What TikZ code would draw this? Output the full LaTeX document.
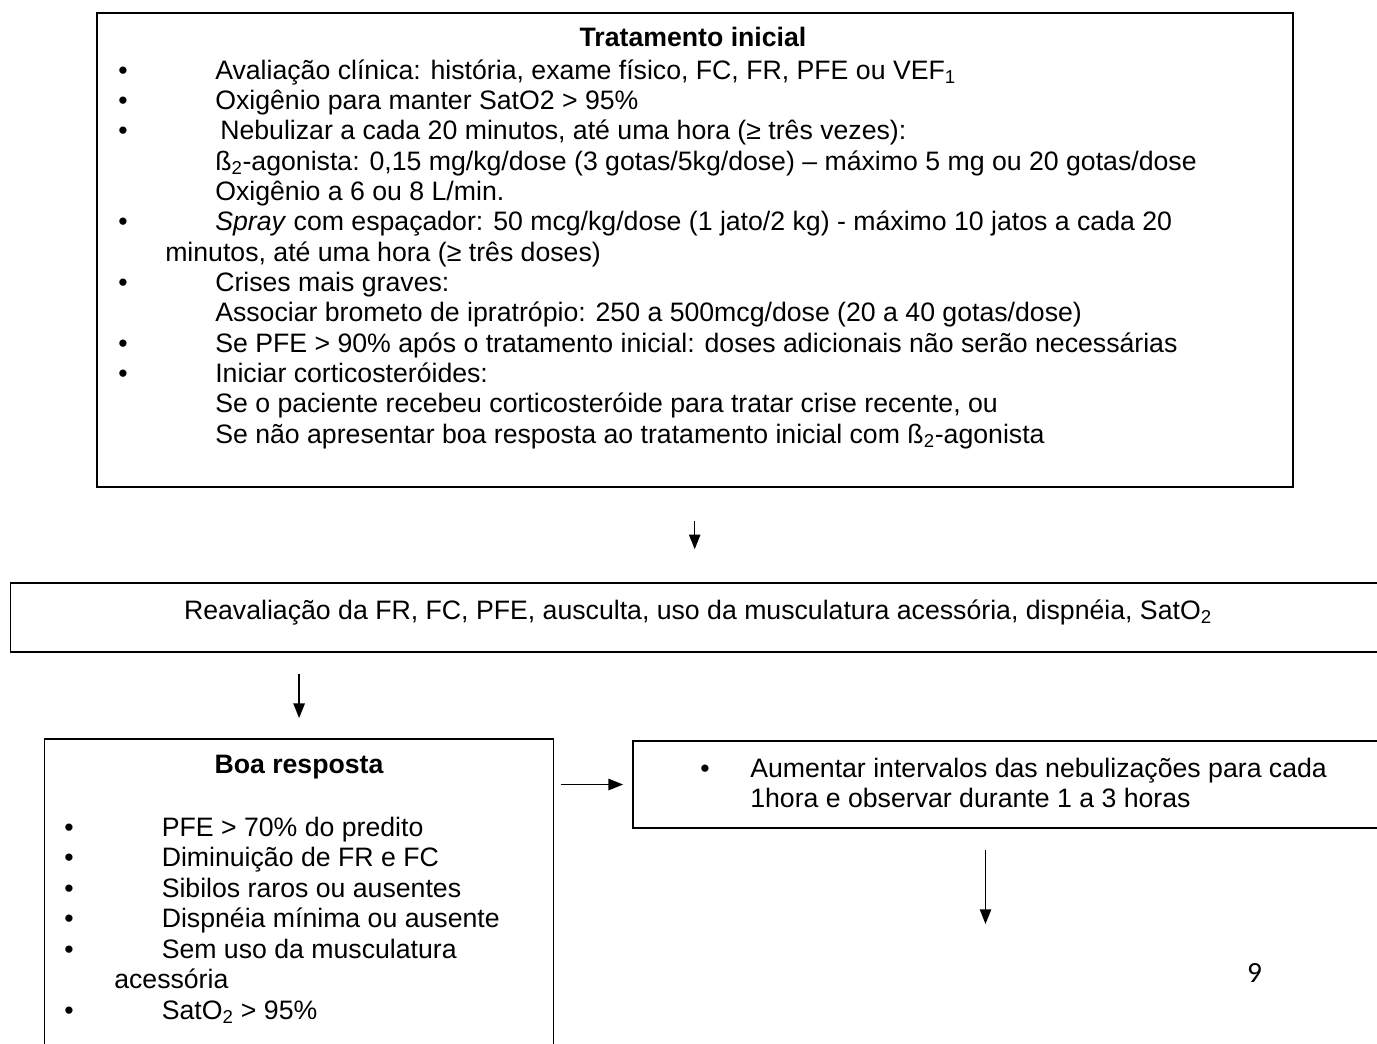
\documentclass[tikz,border=0pt]{standalone}
\usepackage{fontspec}
\setmainfont{Liberation Sans}
\newfontfamily\pagefont{Carlito}
\usetikzlibrary{arrows.meta}
\newcommand\fs{\fontsize{20}{23}\selectfont}
\begin{document}
\begin{tikzpicture}[x=0.75pt,y=-0.75pt,
  every node/.style={font=\fs, inner sep=0pt},
  box/.style={draw, line width=1.3pt, rectangle},
  txt/.style={anchor=base west},
  ctxt/.style={anchor=base},
  arr/.style={-{Triangle[length=11pt,width=8.5pt]}, line width=1.1pt}]
\useasboundingbox (0,0) rectangle (1377,1043);
\clip (0,0) rectangle (1377,1043);
% boxes
\node[box, minimum width=897pt, minimum height=355.5pt] (top) at (694.7,250) {};
\node[box, minimum width=1042.1pt, minimum height=51.75pt] (reav) at (705.25,617.2) {};
\node[box, minimum width=381.75pt, minimum height=240.75pt] (boa) at (299.1,899.5) {};
\node[box, minimum width=575.25pt, minimum height=65.25pt] (aum) at (1016.5,784.5) {};
% top box text
\node[ctxt] (t0) at (693,46) {\bfseries Tratamento inicial};
\node[ctxt] (b1) at (123,79) {•};
\node[txt] (t1) at (215,79) {Avaliação clínica: história, exame físico, FC, FR, PFE ou VEF\textsubscript{1}};
\node[ctxt] (b2) at (123,109.35) {•};
\node[txt] (t2) at (215,109.35) {Oxigênio para manter SatO2 > 95\%};
\node[ctxt] (b3) at (123,139.7) {•};
\node[txt] (t3) at (220,139.7) {Nebulizar a cada 20 minutos, até uma hora (≥ três vezes):};
\node[txt] (t4) at (215,170.05) {ß\textsubscript{2}-agonista: 0,15 mg/kg/dose (3 gotas/5kg/dose) – máximo 5 mg ou 20 gotas/dose};
\node[txt] (t5) at (215,200.4) {Oxigênio a 6 ou 8 L/min.};
\node[ctxt] (b6) at (123,230.75) {•};
\node[txt] (t6) at (215,230.75) {\textit{Spray} com espaçador: 50 mcg/kg/dose (1 jato/2 kg) - máximo 10 jatos a cada 20};
\node[txt] (t7) at (165,261.1) {minutos, até uma hora (≥ três doses)};
\node[ctxt] (b8) at (123,291.45) {•};
\node[txt] (t8) at (215,291.45) {Crises mais graves:};
\node[txt] (t9) at (215,321.8) {Associar brometo de ipratrópio: 250 a 500mcg/dose (20 a 40 gotas/dose)};
\node[ctxt] (b10) at (123,352.15) {•};
\node[txt] (t10) at (215,352.15) {Se PFE > 90\% após o tratamento inicial: doses adicionais não serão necessárias};
\node[ctxt] (b11) at (123,382.5) {•};
\node[txt] (t11) at (215,382.5) {Iniciar corticosteróides:};
\node[txt] (t12) at (215,412.85) {Se o paciente recebeu corticosteróide para tratar crise recente, ou};
\node[txt] (t13) at (215,443.2) {Se não apresentar boa resposta ao tratamento inicial com ß\textsubscript{2}-agonista};
% reav text
\node[ctxt] (r1) at (698,619) {Reavaliação da FR, FC, PFE, ausculta, uso da musculatura acessória, dispnéia, SatO\textsubscript{2}};
% boa text
\node[ctxt] (g0) at (299,773) {\bfseries Boa resposta};
\node[ctxt] (gb1) at (69,836) {•};
\node[txt] (g1) at (161.5,836) {PFE > 70\% do predito};
\node[ctxt] (gb2) at (69,866.5) {•};
\node[txt] (g2) at (161.5,866.5) {Diminuição de FR e FC};
\node[ctxt] (gb3) at (69,897) {•};
\node[txt] (g3) at (161.5,897) {Sibilos raros ou ausentes};
\node[ctxt] (gb4) at (69,927.5) {•};
\node[txt] (g4) at (161.5,927.5) {Dispnéia mínima ou ausente};
\node[ctxt] (gb5) at (69,958) {•};
\node[txt] (g5) at (161.5,958) {Sem uso da musculatura};
\node[txt] (g6) at (114,988.5) {acessória};
\node[ctxt] (gb7) at (69,1019) {•};
\node[txt] (g7) at (161.5,1019) {SatO\textsubscript{2} > 95\%};
% aum text
\node[ctxt] (ab1) at (705,777) {•};
\node[txt] (a1) at (750,777) {Aumentar intervalos das nebulizações para cada};
\node[txt] (a2) at (750,807) {1hora e observar durante 1 a 3 horas};
% page number
\node[ctxt, font=\pagefont\fontsize{22}{24}\selectfont] (pg) at (1254.5,982) {9};
% connectors
\coordinate (end4) at (985.5,924);
\draw[arr, shorten <=24.75pt, shorten >=24.5pt] (top.south) -- (top.south |- reav.north);
\draw[arr, shorten <=16pt, shorten >=15pt] (reav.south -| boa.north) -- (boa.north);
\draw[arr, shorten <=4.8pt, shorten >=6.75pt] (aum.west -| boa.east) -- (aum.west);
\draw[arr, shorten <=15.75pt] (aum.south -| end4) -- (end4);
\end{tikzpicture}
\end{document}
